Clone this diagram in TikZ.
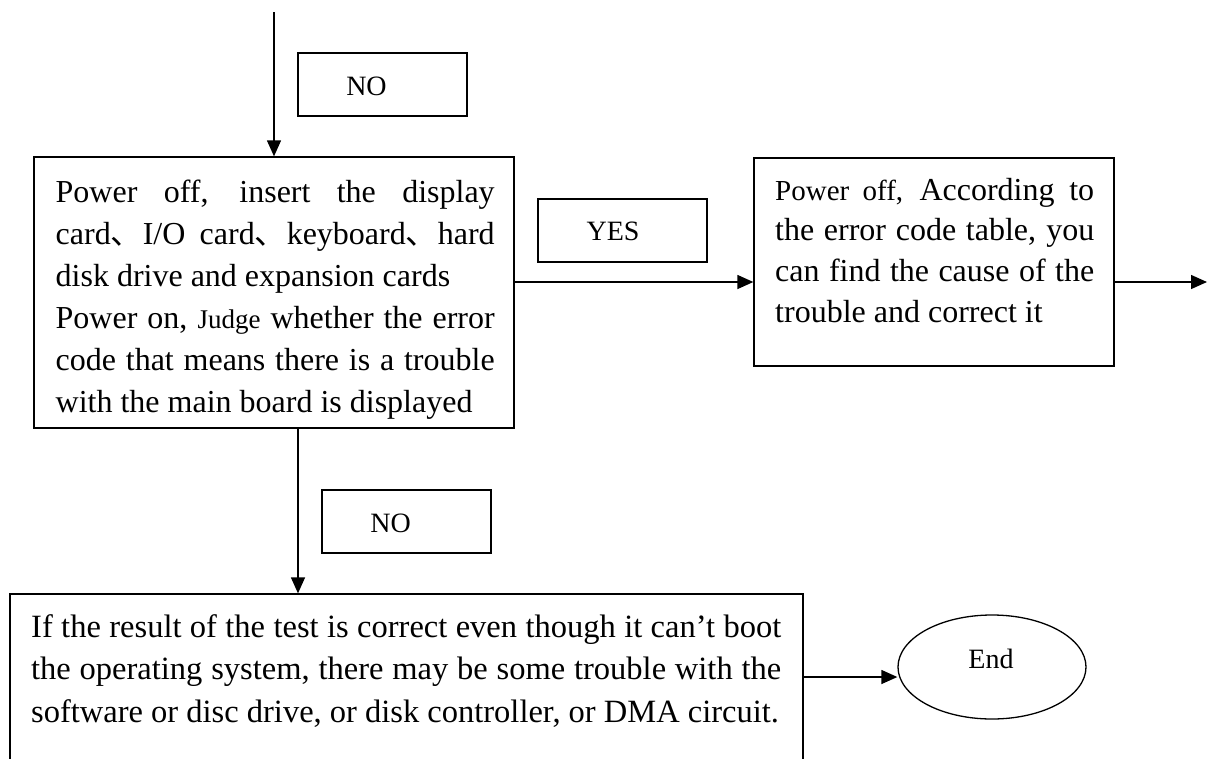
\documentclass[tikz,border=0pt]{standalone}
\usepackage{fontspec}
\setmainfont{Liberation Serif}
\newfontfamily\cjk{Noto Sans CJK SC}
\usetikzlibrary{arrows.meta,shapes.geometric}
\newcommand\myjust[2]{\makebox[#1][s]{#2}}
\newcommand\dun{{\cjk 、}}
\begin{document}
\begin{tikzpicture}[x=1pt,y=-1pt,
  box/.style={draw,line width=1.3pt,inner sep=0pt},
  txt/.style={inner sep=0pt,anchor=north west,align=left,font=\fontsize{32}{42}\selectfont},
  arr/.style={line width=1.3pt,-{Triangle[length=16pt,width=14pt]}},
  lab/.style={inner sep=0pt,anchor=base,font=\fontsize{28}{32}\selectfont},
]
\useasboundingbox (0,0) rectangle (1207,758);

% boxes
\node[box,minimum width=480pt,minimum height=271pt] (main) at (274,292.5) {};
\node[box,minimum width=169pt,minimum height=63pt] (no1) at (382.5,84.5) {};
\node[box,minimum width=169pt,minimum height=63pt] (yes) at (622.5,230.5) {};
\node[box,minimum width=360pt,minimum height=208pt] (right) at (934,262) {};
\node[box,minimum width=169pt,minimum height=63pt] (no2) at (406.5,521.5) {};
\node[box,minimum width=793pt,minimum height=196pt] (bottom) at (406.5,692) {};
\node[box,ellipse,minimum width=188pt,minimum height=104pt] (end) at (992,667) {};

% labels
\node[lab] (no1t) at (366.5,95) {NO};
\node[lab] (yest) at (613,240) {YES};
\node[lab] (no2t) at (390.5,532) {NO};
\node[lab] (endt) at (991,668) {End};

% texts
\node[txt] (maint) at (55.5,172.6) {%
\myjust{439pt}{\strut Power off, insert the display}\\
\myjust{439pt}{card\dun I/O card\dun keyboard\dun hard}\\
disk drive and expansion cards\\
\myjust{439pt}{Power on, {\fontsize{27}{42}\selectfont Judge} whether the error}\\
\myjust{439pt}{code that means there is a trouble}\\
with the main board is displayed};

\node[txt,font=\fontsize{32}{40.7}\selectfont] (rightt) at (775,171.6) {%
\myjust{319pt}{\strut{\fontsize{29}{40.7}\selectfont Power off,} According to}\\
\myjust{319pt}{the error code table, you}\\
\myjust{319pt}{can find the cause of the}\\
trouble and correct it};

\node[txt,font=\fontsize{32.5}{42.5}\selectfont] (bottomt) at (31,607.3) {%
\myjust{750pt}{\strut If the result of the test is correct even though it can’t boot}\\
\myjust{750pt}{the operating system, there may be some trouble with the}\\
software or disc drive, or disk controller, or DMA circuit.};

% connectors
\coordinate (top) at (274,12);
\coordinate (y1) at (0,282);
\coordinate (out1) at (1207,282);
\coordinate (x2) at (298,0);
\coordinate (y3) at (0,677);
\draw[arr] (top) -- (main.north);
\draw[arr] (main.east |- y1) -- (right.west |- y1);
\draw[arr] (right.east |- y1) -- (out1);
\draw[arr] (main.south -| x2) -- (bottom.north -| x2);
\draw[arr] (bottom.east |- y3) -- (end.west |- y3);
\end{tikzpicture}
\end{document}
